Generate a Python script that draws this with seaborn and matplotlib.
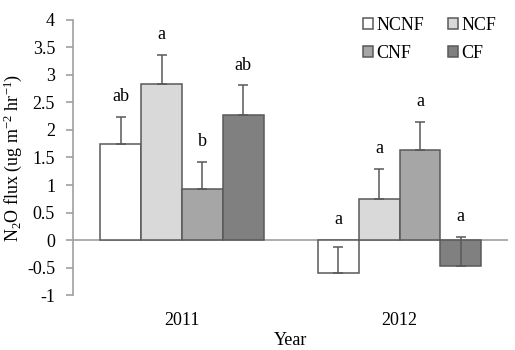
import numpy as np
import pandas as pd
import seaborn as sns
import matplotlib.pyplot as plt

years = ["2011", "2012"]
treatments = ["NCNF", "NCF", "CNF", "CF"]
flux_2011 = [1.74, 2.83, 0.93, 2.27]
flux_2012 = [-0.60, 0.75, 1.64, -0.48]
err_2011 = [0.49, 0.53, 0.49, 0.54]
err_2012 = [0.48, 0.55, 0.50, 0.53]
letters_2011 = ["ab", "a", "b", "ab"]
letters_2012 = ["a", "a", "a", "a"]

df = pd.DataFrame({
    "year": [y for y in years for t in treatments],
    "treatment": treatments * 2,
    "flux": flux_2011 + flux_2012,
    "err": err_2011 + err_2012,
    "letter": letters_2011 + letters_2012,
})

sns.set_style("white")
plt.rcParams["font.family"] = ["Liberation Serif", "DejaVu Serif"]
plt.rcParams["mathtext.fontset"] = "custom"
plt.rcParams["mathtext.rm"] = "Liberation Serif"
plt.rcParams["mathtext.it"] = "Liberation Serif:italic"
plt.rcParams["text.color"] = "black"
plt.rcParams["axes.labelcolor"] = "black"
plt.rcParams["xtick.color"] = "black"
plt.rcParams["ytick.color"] = "black"

colors = ["#ffffff", "#d9d9d9", "#a6a6a6", "#808080"]
edge = "#595959"
grey = "#a0a0a0"

fig = plt.figure(figsize=(5.15, 3.5), dpi=100)
ax = fig.add_axes([0.142, 0.157, 0.845, 0.786])

sns.barplot(data=df, x="year", y="flux", hue="treatment", hue_order=treatments,
            palette=colors, edgecolor=edge, linewidth=1.1, width=0.75,
            errorbar=None, ax=ax)

# error bars (plus side only) and letters above them
for cont, t in zip(ax.containers, treatments):
    sub = df[df.treatment == t]
    for bar, (_, row) in zip(cont, sub.iterrows()):
        x = bar.get_x() + bar.get_width() / 2
        ax.errorbar(x, row.flux, yerr=[[0], [row.err]], fmt="none",
                    ecolor=edge, elinewidth=1.1, capsize=3.8, capthick=1.1)
        top = max(row.flux + row.err, 0)
        ax.text(x, top + 0.37, row.letter, ha="center", va="center", fontsize=13)

ax.axhline(0, color=grey, lw=1.2, zorder=0)
ax.set_ylim(-1, 4)
yt = np.arange(-1, 4.01, 0.5)
ax.set_yticks(yt)
ax.set_yticklabels([f"{v:g}" for v in yt])
ax.set_xlim(-0.5, 1.5)
for s in ["top", "right", "bottom"]:
    ax.spines[s].set_visible(False)
ax.spines["left"].set_color(grey)
ax.spines["left"].set_linewidth(1.2)
ax.tick_params(axis="y", left=True, length=5, width=1.2, color=grey, labelsize=13, pad=8)
ax.tick_params(axis="x", bottom=False, labelsize=13, pad=9)
ax.set_xlabel("Year", fontsize=13, labelpad=2)
ax.set_ylabel("N$_2$O flux (ug m$^{-2}$ hr$^{-1}$)", fontsize=13, labelpad=2)

h, l = ax.get_legend_handles_labels()
order = [0, 2, 1, 3]
ax.legend([h[i] for i in order], [l[i] for i in order], ncol=2, loc="upper left",
          bbox_to_anchor=(363 / 515, 1 - 17 / 350), bbox_transform=fig.transFigure,
          frameon=False, fontsize=13, handlelength=0.55, handleheight=0.55,
          handletextpad=0.2, columnspacing=1.3, labelspacing=0.6,
          borderpad=0, borderaxespad=0)

fig.savefig("out.png", dpi=100)
